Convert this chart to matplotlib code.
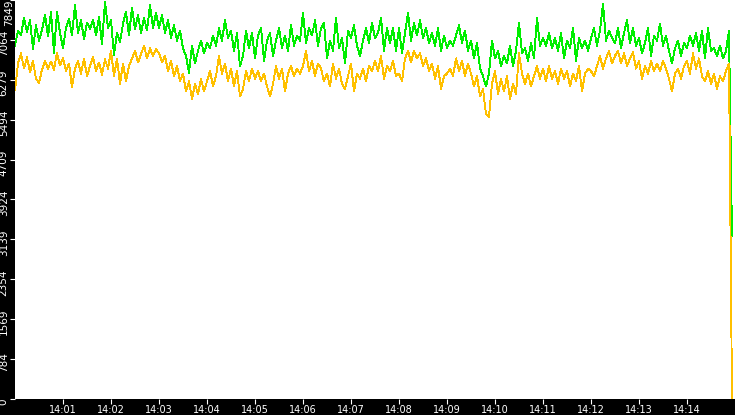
import matplotlib
matplotlib.use("Agg")
import matplotlib.pyplot as plt
import matplotlib.dates as mdates
import matplotlib.transforms as mtransforms
import pandas as pd

# one sample every 3.75 s from 14:00:00, one row per minute
start = pd.Timestamp("2024-01-01 14:00:00")
n_points = 240
step = "3750ms"

green_values = [
    6950, 7250, 7150, 7500, 7220, 7450, 6880, 7350, 7050, 7260, 7560, 7130, 7610, 6810, 7620, 7200,
    6900, 7300, 7480, 7150, 7750, 7200, 7450, 7080, 7400, 7280, 7460, 7150, 7520, 6980, 7820, 7300,
    7450, 6770, 7200, 7020, 7380, 7620, 7150, 7700, 7280, 7550, 7200, 7500, 7250, 7750, 7300, 7600,
    7300, 7550, 7200, 7450, 7100, 7350, 7050, 7250, 6900, 6750, 6420, 6950, 6600, 6850, 7050, 6800,
    7000, 6900, 7150, 6950, 7300, 7050, 7450, 7100, 7250, 6850, 7200, 6550, 6750, 7250, 6900, 7200,
    6700, 7150, 7300, 6650, 7050, 7200, 6750, 7050, 7300, 6900, 7150, 6850, 7360, 6950, 7150, 7050,
    7600, 7000, 7300, 7150, 7450, 6950, 7300, 7400, 6700, 7050, 6850, 7500, 6900, 7100, 6600, 7250,
    7100, 7350, 6950, 6750, 7050, 7300, 7000, 7400, 7100, 7200, 7500, 6850, 7300, 7000, 7300, 6850,
    7300, 6800, 7200, 7600, 7050, 7400, 7150, 7450, 7100, 7300, 7000, 7200, 6950, 7300, 6850, 7150,
    6900, 7050, 6950, 7150, 7350, 7000, 7250, 6850, 7050, 6700, 7000, 6500, 6350, 6150, 6400, 7050,
    6700, 6850, 6550, 6750, 6600, 6950, 6550, 6850, 7400, 6800, 6900, 6650, 7000, 6700, 7500, 6950,
    7100, 6950, 7200, 6900, 7100, 6850, 7200, 6700, 7050, 6900, 7300, 6650, 7100, 6900, 7050, 6850,
    7100, 7300, 6950, 7250, 7780, 7050, 7250, 7100, 7000, 7300, 6900, 7200, 7450, 7000, 7300, 6950,
    7100, 6800, 7000, 7300, 6750, 7150, 7050, 7380, 6950, 7150, 6850, 6600, 6900, 7050, 6750, 7000,
    6900, 7150, 6950, 7200, 6850, 7250, 6700, 7300, 6850, 6900, 6750, 6950, 6700, 6850, 7250, 3200,
]

yellow_values = [
    6080, 6600, 6800, 6500, 6720, 6430, 6650, 6300, 6220, 6480, 6650, 6500, 6640, 6480, 6810, 6560,
    6700, 6450, 6600, 6130, 6500, 6650, 6400, 6700, 6350, 6550, 6730, 6450, 6620, 6380, 6680, 6500,
    6850, 6350, 6700, 6200, 6600, 6250, 6550, 6700, 6850, 6620, 6780, 6950, 6700, 6900, 6750, 6880,
    6800, 6620, 6750, 6450, 6650, 6350, 6550, 6250, 6400, 6050, 6250, 5900, 6200, 6000, 6300, 6050,
    6250, 6450, 6150, 6350, 6750, 6400, 6600, 6250, 6500, 6150, 6450, 5950, 6100, 6450, 6250, 6500,
    6300, 6450, 6250, 6400, 6150, 5950, 6200, 6550, 6300, 6500, 6050, 6400, 6550, 6350, 6500, 6400,
    6550, 6850, 6450, 6650, 6350, 6600, 6500, 6250, 6400, 6150, 6600, 6300, 6500, 6200, 6100, 6350,
    6600, 6050, 6400, 6300, 6500, 6250, 6550, 6450, 6650, 6450, 6750, 6300, 6550, 6450, 6650, 6350,
    6400, 6250, 6700, 6850, 6620, 6850, 6700, 6800, 6550, 6700, 6450, 6600, 6300, 6550, 6100, 6350,
    6400, 6500, 6350, 6700, 6450, 6650, 6350, 6600, 6400, 6150, 6350, 5950, 6100, 5600, 5550, 6200,
    6450, 6000, 6300, 6050, 6350, 5900, 6200, 6000, 6800, 6400, 6200, 6400, 6150, 6350, 6550, 6300,
    6500, 6250, 6550, 6300, 6450, 6200, 6500, 6300, 6450, 6150, 6400, 6250, 6550, 6050, 6400, 6500,
    6450, 6350, 6550, 6750, 6500, 6700, 6850, 6600, 6750, 6850, 6600, 6800, 6550, 6700, 6820, 6500,
    6650, 6300, 6550, 6400, 6650, 6450, 6600, 6450, 6650, 6500, 6300, 6050, 6400, 6500, 6300, 6550,
    6650, 6400, 6800, 6500, 6700, 6350, 6250, 6450, 6200, 6400, 6100, 6350, 6250, 6450, 6600, 0,
]

y_max = 7849
ytick_labels = ["0", "784", "1569", "2354", "3139", "3924", "4709", "5494", "6279", "7064", "7849"]
xtick_minutes = list(range(1, 15))

times = pd.date_range(start, periods=n_points, freq=step)

fig = plt.figure(figsize=(7.35, 4.15), dpi=100, facecolor="black")
ax = fig.add_axes([15 / 735, 16 / 415, 720 / 735, 399 / 415])
ax.set_facecolor("white")

ax.plot(times, green_values, color="#00ee00", lw=0.65, antialiased=False)
ax.plot(times, yellow_values, color="#ffc000", lw=0.65, antialiased=False)

ax.set_xlim(start, start + pd.Timedelta(minutes=15))
ax.set_ylim(0, y_max)

ax.set_xticks([start + pd.Timedelta(minutes=m) for m in xtick_minutes])
ax.xaxis.set_major_formatter(mdates.DateFormatter("%H:%M"))
ax.set_yticks([y_max * i / 10 for i in range(11)])
ax.set_yticklabels(ytick_labels)

for side in ax.spines.values():
    side.set_visible(False)

ax.tick_params(axis="both", colors="white", direction="out", length=3.5, width=0.8)
ax.tick_params(axis="x", pad=1, labelsize=7)
ax.tick_params(axis="y", pad=1, labelsize=7.5)

# rotated y labels, nudged a bit below their tick like the original
shift = mtransforms.ScaledTranslation(0, -3 / 100, fig.dpi_scale_trans)
labels = ax.get_yticklabels()
for label in labels:
    label.set_rotation(90)
    label.set_va("center")
    label.set_ha("right")
    label.set_transform(label.get_transform() + shift)
# keep the top label inside the figure
labels[-1].set_va("top")
labels[-1].set_transform(ax.get_yaxis_text1_transform(1)[0])

fig.savefig("out.png", dpi=100, facecolor="black")
